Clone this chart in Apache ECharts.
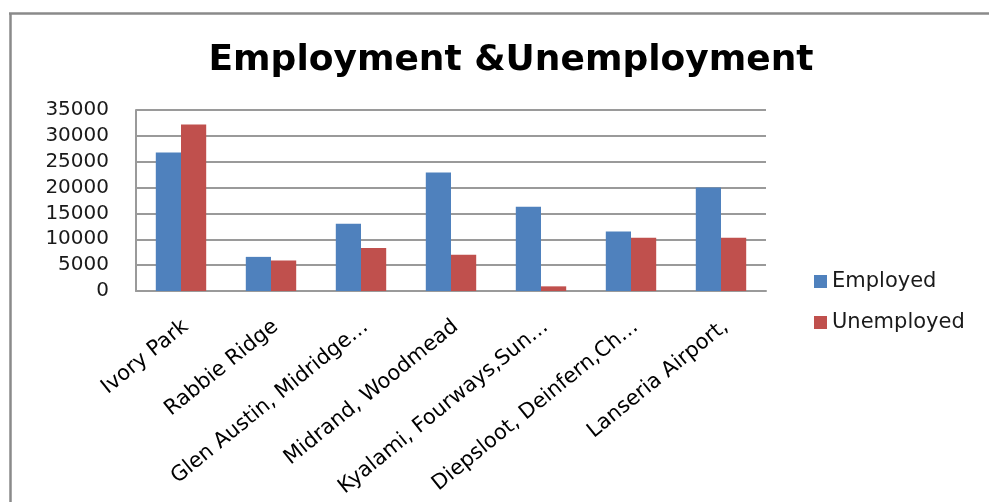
<!DOCTYPE html>
<html>
<head>
<meta charset="utf-8">
<script src="https://cdn.jsdelivr.net/npm/echarts@6/dist/echarts.min.js"></script>
<style>
  html, body { margin: 0; padding: 0; background: #ffffff; }
  #chart { width: 989px; height: 502px; }
</style>
</head>
<body>
<div id="chart"></div>
<script>
// Areas along the x axis (long names shortened as on the axis)
const areas = [
  'Ivory Park',
  'Rabbie Ridge',
  'Glen Austin, Midridge…',
  'Midrand, Woodmead',
  'Kyalami, Fourways,Sun…',
  'Diepsloot, Deinfern,Ch…',
  'Lanseria Airport,'
];

// Number of people per area
const employed   = [26800, 6600, 13000, 22900, 16300, 11500, 20000];
const unemployed = [32200, 5900,  8300,  7000,   900, 10300, 10300];

// Value axis range
const yMin = 0;
const yMax = 35000;
const yStep = 5000;

const FONT = 'DejaVu Sans';
const chart = echarts.init(document.getElementById('chart'), null, { renderer: 'canvas' });

chart.setOption({
  backgroundColor: '#ffffff',
  animation: false,
  title: {
    text: 'Employment &Unemployment',
    left: 506,
    textAlign: 'center',
    top: 38,
    textStyle: { fontFamily: FONT, fontSize: 36, fontWeight: 'bold', color: '#000000' }
  },
  legend: {
    orient: 'vertical',
    left: 809,
    top: 266,
    itemWidth: 13,
    itemHeight: 13,
    itemGap: 20,
    icon: 'rect',
    textStyle: { fontFamily: FONT, fontSize: 21, color: '#1a1a1a' },
    data: ['Employed', 'Unemployed']
  },
  grid: { left: 136, right: 223, top: 110, bottom: 211, containLabel: false },
  xAxis: {
    type: 'category',
    data: areas,
    axisLine: { show: true, lineStyle: { color: '#9a9a9a', width: 2 } },
    axisTick: { show: false },
    axisLabel: {
      interval: 0,
      rotate: 39,
      margin: 37,
      padding: [0, -6, 0, 0],
      fontFamily: FONT,
      fontSize: 21,
      color: '#000000'
    }
  },
  yAxis: {
    type: 'value',
    min: yMin,
    max: yMax,
    interval: yStep,
    axisLine: { show: true, lineStyle: { color: '#9a9a9a', width: 2 } },
    axisTick: { show: false },
    splitLine: { show: true, lineStyle: { color: '#9a9a9a', width: 2 } },
    axisLabel: {
      margin: 27,
      fontFamily: FONT,
      fontSize: 20,
      color: '#1a1a1a',
      formatter: (v) => String(v)
    }
  },
  series: [
    {
      name: 'Employed',
      type: 'bar',
      data: employed,
      barGap: '0%',
      barCategoryGap: '44%',
      itemStyle: { color: '#4F81BD' }
    },
    {
      name: 'Unemployed',
      type: 'bar',
      data: unemployed,
      itemStyle: { color: '#C0504D' }
    }
  ],
  graphic: [
    // chart frame: left and top edges
    {
      type: 'line',
      shape: { x1: 10.5, y1: 13, x2: 10.5, y2: 502 },
      style: { stroke: '#8a8a8a', lineWidth: 2.5 }
    },
    {
      type: 'line',
      shape: { x1: 9, y1: 13.5, x2: 989, y2: 13.5 },
      style: { stroke: '#8a8a8a', lineWidth: 2.5 }
    }
  ]
});
</script>
</body>
</html>
